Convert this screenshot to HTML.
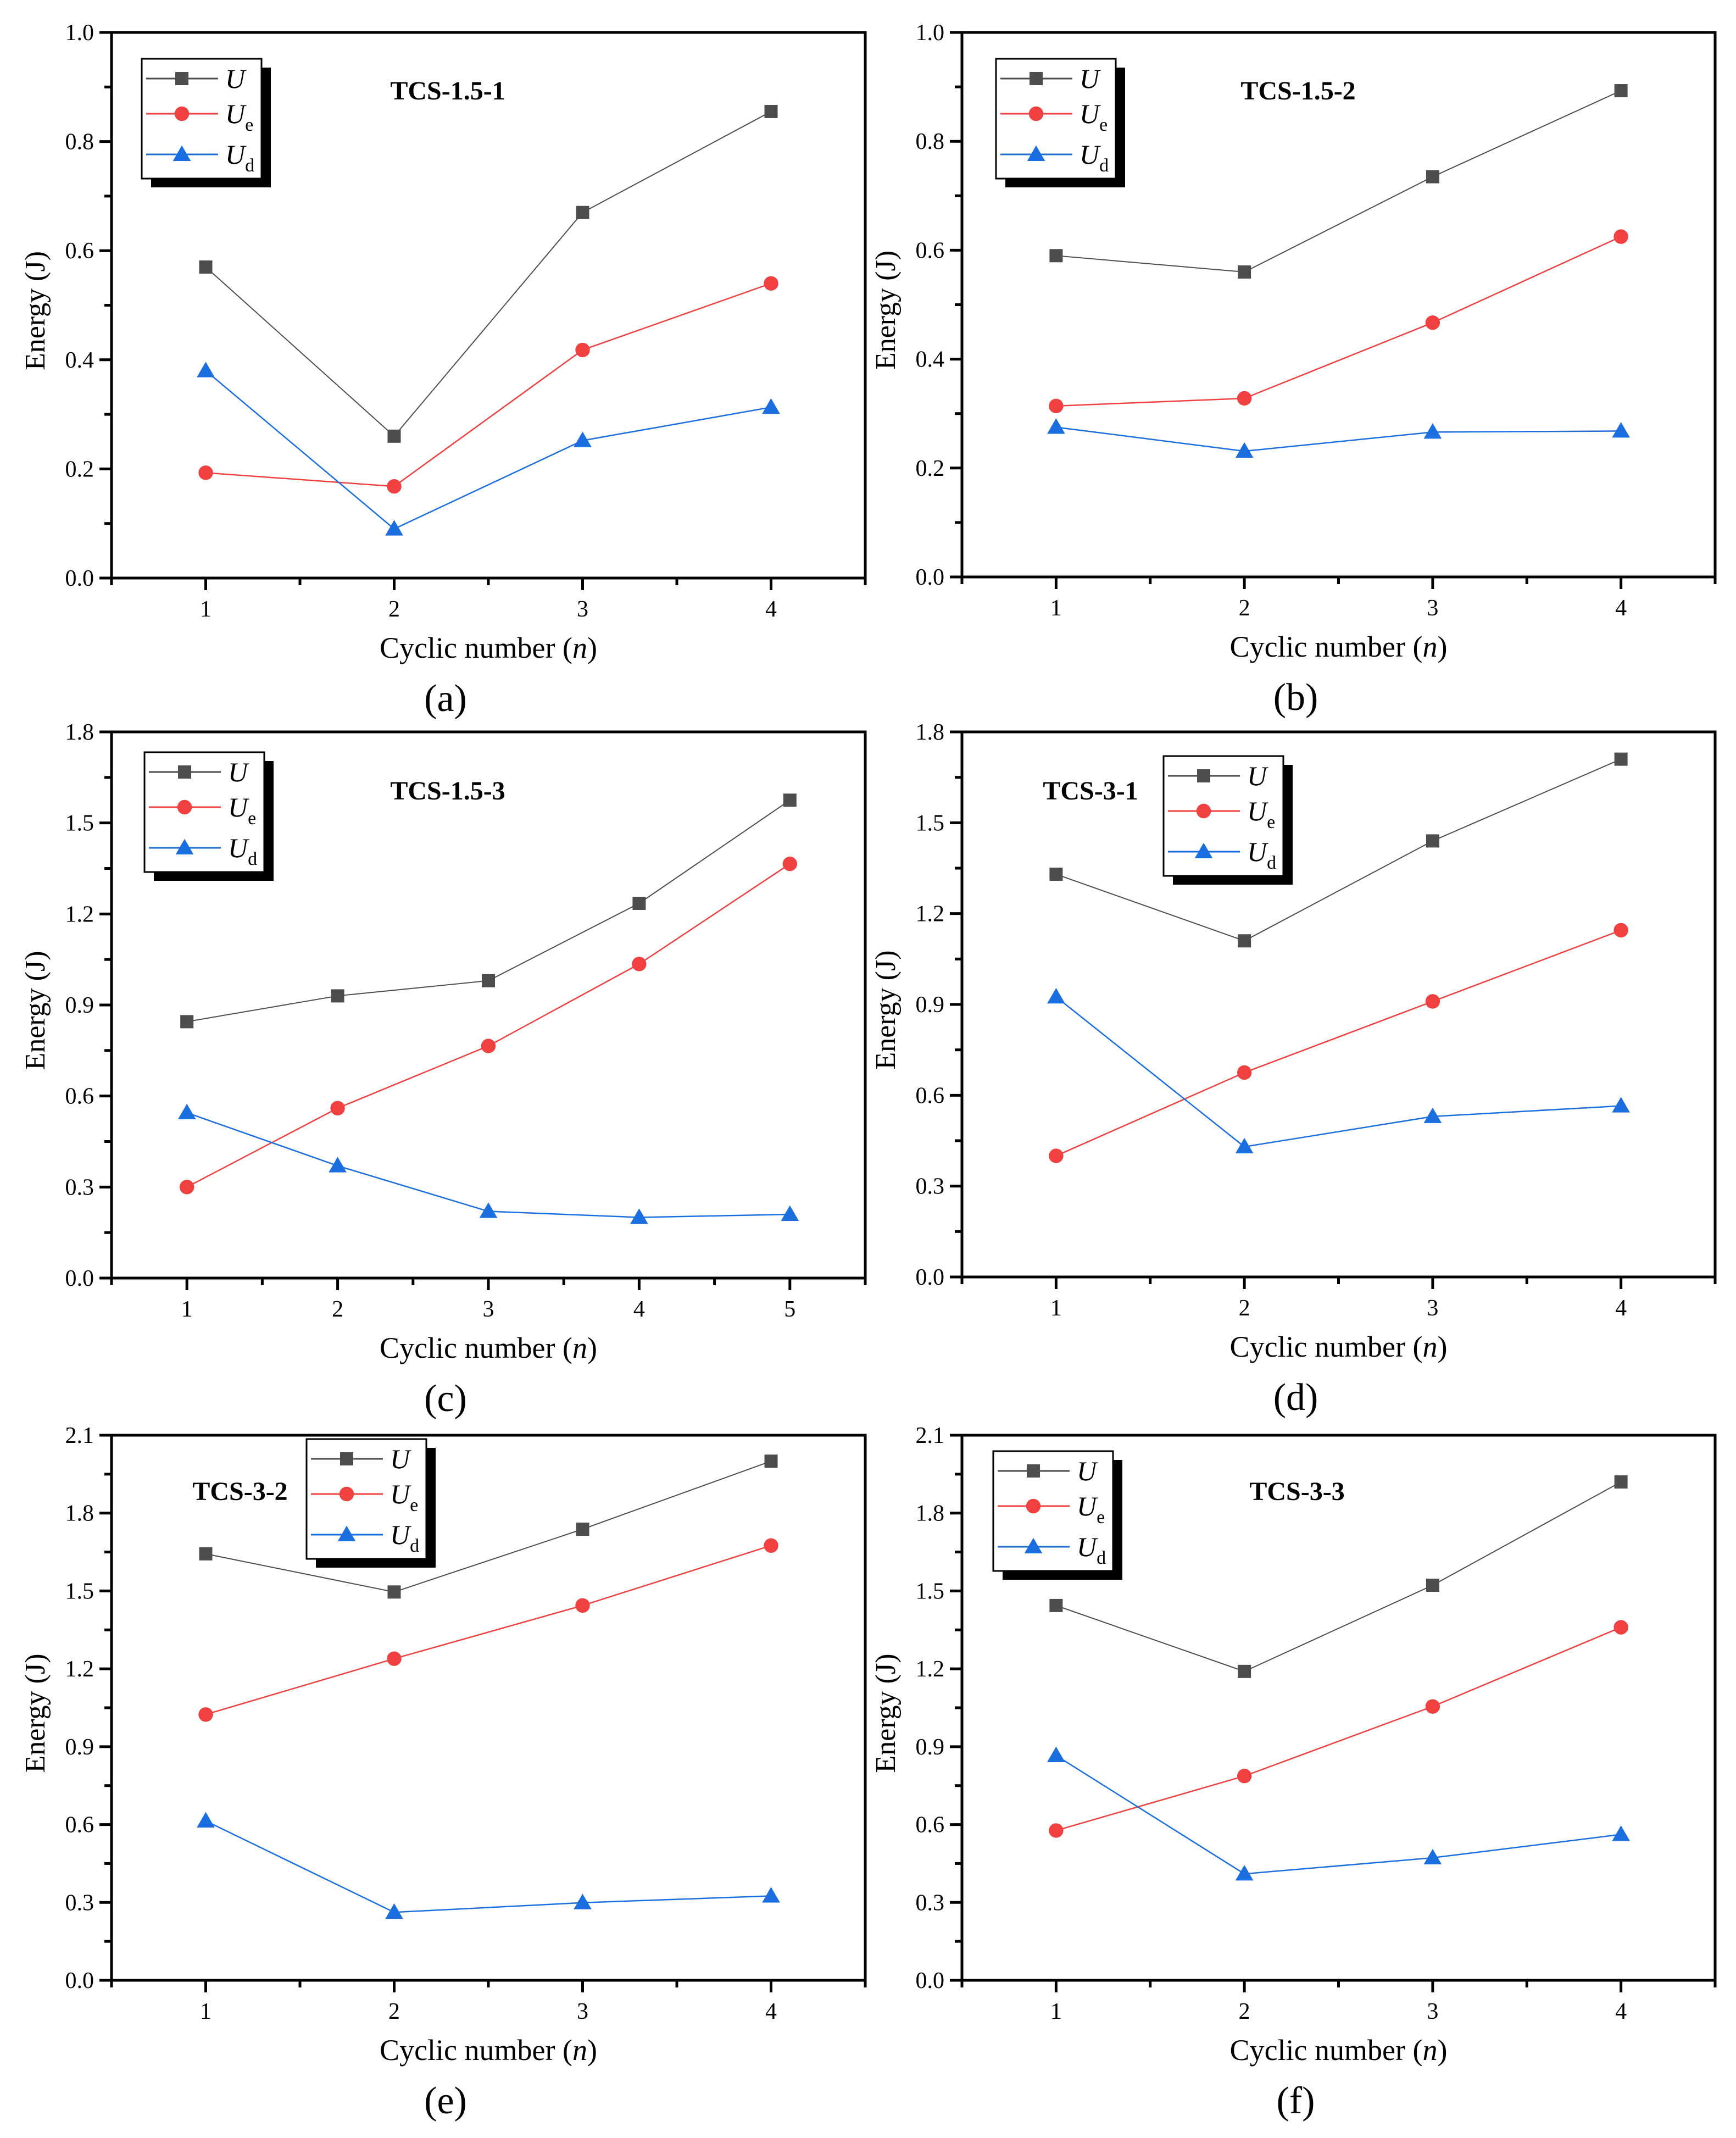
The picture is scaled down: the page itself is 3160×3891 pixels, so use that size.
<!DOCTYPE html>
<html><head><meta charset="utf-8"><style>
html,body{margin:0;padding:0;background:#fff}
svg{display:block}
svg text{font-family:"Liberation Serif","DejaVu Serif","Times New Roman",serif;fill:#000}
</style></head><body>
<svg id="fig" width="3160" height="3891" viewBox="0 0 3160 3891" xmlns="http://www.w3.org/2000/svg" font-family="Liberation Serif, DejaVu Serif, serif"></svg>
<script>
const xA = [1,2,3,4];
const xC = [1,2,3,4,5];
const aU=[0.57,0.26,0.67,0.855], aUe=[0.193,0.168,0.418,0.54], aUd=[0.38,0.09,0.252,0.313];
const bU=[0.59,0.56,0.735,0.893], bUe=[0.314,0.328,0.467,0.625], bUd=[0.275,0.231,0.266,0.268];
const cU=[0.845,0.93,0.98,1.235,1.575], cUe=[0.3,0.56,0.765,1.035,1.365], cUd=[0.545,0.37,0.22,0.2,0.21];
const dU=[1.33,1.11,1.44,1.71], dUe=[0.40,0.675,0.91,1.145], dUd=[0.925,0.43,0.53,0.565];
const eU=[1.643,1.496,1.738,2.0], eUe=[1.024,1.239,1.444,1.675], eUd=[0.614,0.262,0.299,0.325];
const fU=[1.444,1.19,1.522,1.92], fUe=[0.577,0.787,1.055,1.36], fUd=[0.866,0.41,0.472,0.562];
const ticksA=["0.0","0.2","0.4","0.6","0.8","1.0"];
const ticksC=["0.0","0.3","0.6","0.9","1.2","1.5","1.8"];
const ticksE=["0.0","0.3","0.6","0.9","1.2","1.5","1.8","2.1"];
const titles=["TCS-1.5-1","TCS-1.5-2","TCS-1.5-3","TCS-3-1","TCS-3-2","TCS-3-3"];
const letters=["(a)","(b)","(c)","(d)","(e)","(f)"];

const NS="http://www.w3.org/2000/svg";
const svg=document.getElementById('fig');
function mk(tag,attrs,parent){const e=document.createElementNS(NS,tag);for(const k in attrs)e.setAttribute(k,attrs[k]);(parent||svg).appendChild(e);return e;}

const COL={U:"#4d4d4d",Ue:"#f04040",Ud:"#1a6ee0"};
function marker(g,kind,cx,cy,s){
  let m;
  if(kind==="U"){m=mk('rect',{x:cx-s*0.5,y:cy-s*0.5,width:s,height:s,fill:COL.U},g);}
  else if(kind==="Ue"){m=mk('circle',{cx:cx,cy:cy,r:s*0.55,fill:COL.Ue},g);}
  else {m=mk('polygon',{points:`${cx},${cy-s*0.68} ${cx-s*0.68},${cy+s*0.5} ${cx+s*0.68},${cy+s*0.5}`,fill:COL.Ud},g);}
  return m;
}

const panels=[
 {L:203,R:1575,T:59,B:1052,xs:xA,ymax:1.0,ticks:ticksA,step:0.2,ser:{U:aU,Ue:aUe,Ud:aUd},leg:[258,107],title:[815,165]},
 {L:1751,R:3122,T:59,B:1050,xs:xA,ymax:1.0,ticks:ticksA,step:0.2,ser:{U:bU,Ue:bUe,Ud:bUd},leg:[1813,107],title:[2363,165]},
 {L:203,R:1575,T:1332,B:2326,xs:xC,ymax:1.8,ticks:ticksC,step:0.3,ser:{U:cU,Ue:cUe,Ud:cUd},leg:[263,1369],title:[815,1439]},
 {L:1751,R:3122,T:1332,B:2324,xs:xA,ymax:1.8,ticks:ticksC,step:0.3,ser:{U:dU,Ue:dUe,Ud:dUd},leg:[2118,1376],title:[1985,1439]},
 {L:203,R:1575,T:2612,B:3604,xs:xA,ymax:2.1,ticks:ticksE,step:0.3,ser:{U:eU,Ue:eUe,Ud:eUd},leg:[558,2619],title:[437,2714]},
 {L:1751,R:3122,T:2612,B:3604,xs:xA,ymax:2.1,ticks:ticksE,step:0.3,ser:{U:fU,Ue:fUe,Ud:fUd},leg:[1808,2641],title:[2361,2714]}
];

panels.forEach((p,i)=>{
  const g=mk('g',{});
  
  
  const n=p.xs.length;
  const xmin=0.5,xmax=n+0.5;
  const X=v=>p.L+(v-xmin)/(xmax-xmin)*(p.R-p.L);
  const Y=v=>p.B-(v/p.ymax)*(p.B-p.T);
  const frame=mk('rect',{x:p.L,y:p.T,width:p.R-p.L,height:p.B-p.T,fill:"none",stroke:"#000","stroke-width":5},g);
  
  
  p.ticks.forEach((t,k)=>{
    const v=k*p.step, y=Y(v);
    mk('line',{x1:p.L-22,x2:p.L,y1:y,y2:y,stroke:"#000","stroke-width":5},g);
    const tx=mk('text',{x:p.L-32,y:y+14,"font-size":42,"text-anchor":"end"},g);
    tx.textContent=t;
    
    
    if(k<p.ticks.length-1){const ym=Y(v+p.step/2);mk('line',{x1:p.L-13,x2:p.L,y1:ym,y2:ym,stroke:"#000","stroke-width":5},g);}
  });
  for(let v=xmin;v<=xmax+0.001;v+=0.5){
    const x=X(v), major=Math.abs(v-Math.round(v))<0.01;
    mk('line',{x1:x,x2:x,y1:p.B,y2:p.B+(major?22:13),stroke:"#000","stroke-width":5},g);
  }
  p.xs.forEach(v=>{
    const tx=mk('text',{x:X(v),y:p.B+70,"font-size":42,"text-anchor":"middle"},g);
    tx.textContent=String(v);
    
    
  });
  const cx=(p.L+p.R)/2;
  const xt=mk('text',{x:cx,y:p.B+145,"font-size":54,"text-anchor":"middle"},g);
  xt.innerHTML='Cyclic number (<tspan font-style="italic">n</tspan>)';
  
  
  const yt=mk('text',{x:0,y:0,"font-size":52,"text-anchor":"middle",transform:`translate(${p.L-122},${(p.T+p.B)/2+10}) rotate(-90)`},g);
  yt.textContent='Energy (J)';
  
  
  const lt=mk('text',{x:cx-78,y:p.B+242,"font-size":70,"text-anchor":"middle"},g);
  lt.textContent=letters[i];
  
  
  const tt=mk('text',{x:p.title[0],y:p.title[1]+16,"font-size":48,"font-weight":"bold","text-anchor":"middle"},g);
  tt.textContent=titles[i];
  
  
  ["U","Ue","Ud"].forEach(k=>{
    const vals=p.ser[k];
    const pts=vals.map((v,j)=>X(p.xs[j])+','+Y(v)).join(' ');
    const pl=mk('polyline',{points:pts,fill:"none",stroke:COL[k],"stroke-width":k==="U"?2:2.5},g);
    
    
    vals.forEach((v,j)=>{
      const m=marker(g,k,X(p.xs[j]),Y(v),24);
      
      
    });
  });
  const [lx,ly]=p.leg;
  const lg=mk('g',{},g);
  
  
  mk('rect',{x:lx+17,y:ly+16,width:218,height:218,fill:"#000"},lg);
  mk('rect',{x:lx,y:ly,width:218,height:218,fill:"#fff",stroke:"#000","stroke-width":3},lg);
  const rows=[["U",36,""],["Ue",100,"e"],["Ud",174,"d"]];
  rows.forEach(([k,dy,sub])=>{
    const y=ly+dy;
    mk('line',{x1:lx+8,x2:lx+139,y1:y,y2:y,stroke:COL[k],"stroke-width":3},lg);
    marker(lg,k,lx+73,y,24);
    const t=mk('text',{x:lx+152,y:y+17,"font-size":50,"font-style":"italic"},lg);
    t.innerHTML='U'+(sub?'<tspan font-style="normal" font-size="34" dy="14">'+sub+'</tspan>':'');
    
    
  });
});
</script>
</body></html>
